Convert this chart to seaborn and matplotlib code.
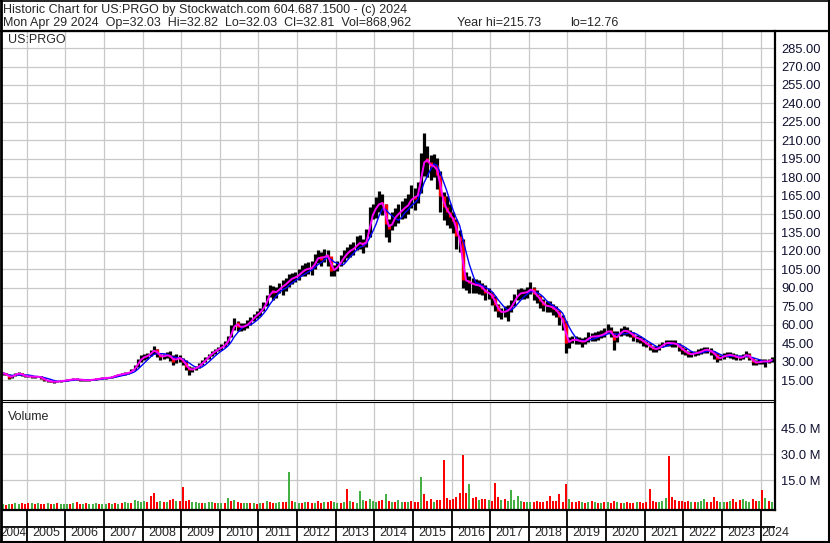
import numpy as np
import pandas as pd
import seaborn as sns
import matplotlib.pyplot as plt
from matplotlib.lines import Line2D
from matplotlib.ticker import FuncFormatter

W, H = 830, 543

# monthly bars, May 2004 -> Apr 2024
close = [
    20.5, 19.5, 17.0, 18.5, 20.0, 20.5, 19.0, 18.0,                                   # 2004 (May-Dec)
    18.0, 17.8, 17.5, 18.0, 16.5, 15.0, 14.2, 13.8, 13.5, 13.8, 14.2, 14.6,           # 2005
    15.0, 15.4, 15.8, 15.6, 15.2, 15.0, 14.8, 15.0, 15.5, 15.8, 16.2, 16.6,           # 2006
    16.8, 16.9, 17.6, 18.8, 19.4, 19.8, 20.3, 21.0, 22.5, 25.0, 30.0, 33.0,           # 2007
    34.0, 35.0, 37.5, 40.0, 36.0, 34.0, 34.5, 35.5, 34.0, 30.0, 33.5, 32.5,           # 2008
    30.0, 25.5, 23.0, 24.0, 25.0, 27.0, 29.5, 32.0, 35.0, 37.0, 39.0, 40.5,           # 2009
    42.0, 44.0, 48.0, 55.0, 62.0, 58.5, 58.0, 59.0, 60.5, 63.5, 66.5, 68.5,           # 2010
    71.0, 75.0, 80.0, 88.0, 86.0, 87.0, 90.0, 92.0, 93.5, 97.0, 98.0, 99.0,           # 2011
    101.0, 104.0, 105.0, 106.0, 106.0, 112.0, 116.0, 113.0, 117.0, 116.0, 104.0, 105.0,  # 2012
    108.0, 112.0, 116.0, 119.0, 121.0, 122.0, 126.0, 127.0, 124.0, 130.0, 145.0, 153.0,  # 2013
    156.0, 160.0, 158.0, 142.0, 138.0, 145.0, 149.0, 151.0, 154.0, 156.0, 158.0, 165.0,  # 2014
    162.0, 168.0, 188.0, 196.0, 192.0, 188.0, 190.0, 182.0, 165.0, 156.0, 152.0, 148.0,  # 2015
    144.0, 132.0, 128.0, 96.0, 96.0, 94.0, 93.0, 92.0, 92.0, 89.0, 86.0, 86.0,       # 2016
    82.0, 76.0, 71.0, 70.0, 71.0, 72.0, 76.0, 81.0, 85.0, 86.0, 86.0, 87.0,           # 2017
    90.0, 85.0, 83.0, 79.0, 76.0, 75.0, 75.0, 73.0, 71.0, 66.0, 62.0, 45.0,           # 2018
    47.0, 48.0, 47.5, 47.0, 46.0, 47.0, 50.0, 50.5, 50.5, 51.0, 52.0, 53.0,           # 2019
    56.0, 53.0, 48.0, 52.0, 54.0, 56.0, 54.0, 53.0, 50.0, 49.0, 48.0, 46.0,           # 2020
    44.0, 42.0, 40.5, 40.0, 42.0, 44.0, 45.5, 45.0, 45.0, 44.5, 42.0, 39.5,           # 2021
    38.0, 36.0, 36.0, 37.0, 37.5, 38.5, 40.0, 39.5, 38.0, 36.0, 32.0, 33.5,           # 2022
    34.5, 35.5, 35.5, 34.5, 33.5, 33.0, 34.0, 36.5, 33.0, 30.0, 29.0, 30.0,           # 2023
    30.0, 30.5, 30.0, 32.81,                                                          # 2024 (Jan-Apr)
]
high = [
    21.5, 20.8, 19.8, 19.0, 20.8, 21.3, 21.0, 19.5,
    18.9, 18.5, 18.4, 18.6, 18.2, 16.8, 15.3, 14.6, 14.2, 14.4, 14.9, 15.3,
    15.6, 16.0, 16.4, 16.5, 16.0, 15.6, 15.4, 15.7, 16.1, 16.4, 16.8, 17.3,
    17.4, 17.5, 18.3, 19.5, 20.2, 20.6, 21.2, 21.9, 23.8, 27.5, 32.5, 35.5,
    36.5, 37.0, 39.5, 42.5, 40.5, 36.5, 36.5, 38.0, 38.5, 35.5, 36.0, 35.5,
    33.0, 31.0, 26.5, 25.5, 26.5, 28.5, 31.0, 34.0, 36.5, 38.5, 40.5, 42.0,
    44.0, 46.5, 51.0, 60.0, 65.5, 63.0, 61.5, 61.5, 63.5, 66.5, 69.0, 71.0,
    74.0, 78.5, 84.0, 92.0, 91.5, 90.5, 94.0, 96.5, 98.0, 101.5, 102.0, 103.0,
    105.0, 108.5, 110.0, 111.0, 111.5, 117.5, 121.0, 119.0, 122.0, 121.0, 114.0, 108.5,
    112.0, 116.5, 120.5, 123.0, 126.0, 127.0, 132.5, 133.0, 130.0, 138.0, 156.0, 158.0,
    164.0, 169.0, 166.0, 158.0, 146.0, 152.0, 155.0, 158.0, 161.0, 163.0, 166.0, 174.0,
    171.0, 176.0, 200.0, 215.73, 205.0, 198.0, 199.0, 196.0, 185.0, 168.0, 165.0, 158.0,
    152.0, 146.0, 137.0, 130.0, 103.0, 100.0, 98.0, 97.0, 96.0, 94.0, 92.0, 90.0,
    87.0, 83.0, 77.0, 74.0, 75.0, 76.0, 80.0, 85.0, 89.0, 90.0, 89.0, 91.0,
    95.0, 91.0, 88.0, 84.0, 81.0, 79.0, 79.0, 77.0, 75.0, 72.0, 68.0, 63.0,
    50.0, 51.0, 51.0, 50.0, 49.0, 50.0, 54.0, 53.5, 54.0, 55.0, 56.0, 57.0,
    61.0, 58.0, 55.0, 55.0, 57.0, 59.0, 58.0, 56.0, 54.0, 52.0, 51.0, 49.0,
    47.0, 45.0, 43.0, 43.0, 44.5, 46.0, 48.0, 47.5, 48.0, 47.5, 45.5, 43.0,
    41.0, 39.0, 38.5, 39.0, 40.0, 41.0, 42.0, 42.0, 41.0, 39.0, 37.0, 35.5,
    37.0, 38.0, 37.5, 37.0, 36.0, 35.5, 36.5, 39.0, 37.0, 33.0, 31.5, 32.0,
    32.0, 32.5, 32.0, 33.5,
]
low = [
    19.5, 18.8, 16.2, 16.5, 18.2, 19.4, 18.5, 17.3,
    17.3, 17.0, 16.9, 17.1, 16.1, 14.6, 13.6, 13.2, 12.76, 13.1, 13.7, 14.0,
    14.4, 14.8, 15.1, 15.0, 14.6, 14.3, 14.1, 14.4, 14.9, 15.2, 15.6, 16.0,
    16.2, 16.3, 16.9, 17.9, 18.7, 19.0, 19.5, 19.9, 21.4, 22.8, 25.5, 29.5,
    31.0, 32.5, 34.5, 36.5, 33.5, 31.5, 32.0, 33.0, 30.5, 27.5, 28.5, 29.5,
    27.0, 23.5, 19.0, 21.5, 23.0, 25.0, 27.0, 29.5, 32.5, 34.5, 36.5, 38.5,
    39.5, 41.5, 44.5, 50.0, 56.0, 55.0, 55.0, 56.0, 57.5, 60.0, 63.0, 65.5,
    67.5, 71.5, 75.5, 82.5, 80.0, 82.0, 85.5, 84.0, 87.5, 91.0, 93.0, 94.5,
    96.5, 99.5, 100.0, 101.0, 100.5, 105.0, 110.5, 108.0, 111.0, 108.0, 99.5, 99.5,
    103.5, 107.5, 111.0, 114.5, 115.5, 117.0, 120.5, 121.5, 118.0, 123.0, 131.0, 146.0,
    147.0, 152.0, 149.0, 131.0, 127.0, 137.0, 140.0, 143.0, 146.0, 147.0, 150.0, 155.0,
    153.0, 159.0, 167.0, 181.0, 180.0, 178.0, 180.0, 170.0, 152.0, 145.0, 141.0, 139.0,
    135.0, 122.0, 119.0, 90.0, 88.0, 86.0, 86.0, 86.0, 85.0, 84.0, 80.0, 81.0,
    76.0, 71.0, 66.0, 65.0, 66.0, 63.0, 70.0, 75.0, 80.0, 81.0, 81.0, 82.0,
    85.0, 80.0, 78.0, 74.0, 71.0, 70.0, 70.0, 68.0, 66.0, 60.0, 56.0, 37.0,
    41.0, 45.0, 44.5, 44.0, 42.0, 44.0, 46.0, 46.5, 47.0, 48.0, 49.0, 50.0,
    53.0, 50.0, 39.5, 46.0, 51.0, 52.0, 51.0, 50.0, 47.0, 46.0, 45.0, 43.0,
    41.5, 39.5, 38.0, 37.5, 39.5, 41.5, 43.0, 42.5, 42.0, 42.0, 39.0, 36.5,
    35.5, 33.5, 33.5, 34.5, 35.0, 36.0, 37.0, 37.0, 35.5, 32.5, 29.5, 31.0,
    32.0, 33.5, 33.0, 32.0, 31.5, 31.0, 32.0, 34.0, 31.0, 27.5, 27.0, 28.0,
    28.0, 25.5, 28.5, 29.5,
]
# volume, millions (biggest session of the month)
volume = [
    1.0, 0.8, 1.2, 1.4, 1.5, 1.2, 1.6, 1.3,
    1.5, 2.0, 1.2, 1.8, 1.4, 1.0, 1.6, 1.4, 1.2, 1.5, 1.0, 1.3,
    1.4, 1.1, 1.6, 2.1, 1.2, 1.0, 1.5, 1.3, 1.2, 1.6, 1.4, 1.1,
    1.2, 1.6, 1.1, 1.8, 1.4, 1.7, 2.4, 2.0, 1.6, 3.5, 2.8, 2.5,
    3.0, 2.6, 5.8, 7.3, 2.5, 3.0, 2.2, 2.4, 3.4, 4.0, 3.0, 2.8,
    11.0, 3.2, 3.5, 2.6, 2.2, 2.0, 1.8, 2.0, 2.2, 2.4, 1.8, 1.6,
    2.0, 1.8, 4.5, 3.0, 3.5, 2.5, 2.0, 1.6, 1.8, 2.0, 1.6, 1.4,
    1.8, 1.5, 3.0, 2.5, 2.0, 1.8, 2.2, 2.6, 2.4, 19.5, 3.0, 2.2,
    2.0, 1.6, 2.5, 2.2, 1.8, 1.5, 2.8, 2.0, 2.4, 2.6, 3.2, 2.2,
    2.0, 1.8, 2.4, 10.0, 3.0, 2.4, 2.0, 8.7, 3.5, 2.8, 4.2, 3.0,
    2.6, 3.0, 3.5, 7.0, 3.0, 2.5, 2.4, 3.5, 2.6, 2.2, 2.5, 2.8,
    2.5, 2.2, 16.8, 7.0, 3.0, 4.0, 2.6, 3.5, 3.4, 27.0, 4.5, 3.5,
    4.0, 5.5, 7.5, 29.6, 7.3, 12.8, 4.5, 5.0, 3.5, 4.0, 4.2, 3.5,
    3.0, 13.3, 5.0, 3.5, 4.0, 3.0, 9.3, 3.5, 5.8, 3.0, 2.5, 2.6,
    2.4, 2.2, 3.0, 2.6, 2.4, 3.0, 5.8, 2.8, 3.0, 7.0, 2.5, 12.8,
    4.0, 2.5, 2.2, 2.8, 2.4, 2.0, 2.5, 3.0, 2.2, 1.8, 2.0, 2.4,
    2.2, 2.0, 3.0, 2.5, 2.0, 1.8, 2.2, 2.0, 1.8, 2.4, 2.2, 2.0,
    2.5, 10.0, 3.2, 2.5, 2.6, 3.0, 4.5, 29.0, 5.0, 3.5, 2.8, 3.0,
    2.6, 2.8, 2.4, 2.5, 2.2, 3.0, 4.0, 2.5, 2.4, 5.4, 3.0, 2.5,
    2.5, 2.2, 2.8, 4.0, 2.6, 3.5, 3.8, 2.8, 2.5, 4.2, 3.0, 2.8,
    9.3, 4.5, 3.0, 2.6,
]
# colour of the volume bar, g = up, r = down
vol_side = (
    "grgrggrr"
    "rgrgrrgrgrgg"
    "grgrrgrgggrg"
    "grgrgrggrggg"
    "grrrrgrgrrgr"
    "rrrgggrgggrg"
    "grgrgrrggrgr"
    "grgrrggrrgrg"
    "grgrrgrrgrrg"
    "grgrgrgggrgg"
    "grrgrgrggrgr"
    "rrgrrrgrrrrr"
    "rrrrrgrrgrrg"
    "rrrgrgggggrg"
    "grrrrrrrrrrr"
    "grrrgrgrgrgr"
    "grrgrgrrrgrr"
    "rrrrgggrrrrr"
    "rrgrgggrrrrg"
    "grgrrrgggrrg"
    "rgrg"
)

years = list(range(2005, 2025))
ma_short = 2
ma_long = 5

months = pd.period_range("2004-05", periods=len(close), freq="M")
df = pd.DataFrame({
    "t": months.year + (months.month - 1) / 12 + 1 / 24,
    "close": close,
    "high": high,
    "low": low,
    "vol": volume,
    "side": list(vol_side),
})
df["open"] = df["close"].shift(1).fillna(df["close"])
df["ma1"] = df["close"].rolling(ma_short, min_periods=1).mean()
df["ma2"] = df["close"].rolling(ma_long, min_periods=1).mean()

sns.set_style("white")
plt.rcParams["font.family"] = ["Liberation Sans", "DejaVu Sans"]

fig = plt.figure(figsize=(W / 100, H / 100), dpi=100)


def box(x0, y0, x1, y1):
    """axes placed in pixel coordinates (y measured from the top)"""
    return fig.add_axes([x0 / W, 1 - y1 / H, (x1 - x0) / W, (y1 - y0) / H])


def line(xs, ys, lw=1.5):
    fig.add_artist(Line2D([x / W for x in xs], [1 - y / H for y in ys], color="black", lw=lw))


ax_p = box(2, 31, 774.5, 400)
ax_v = box(2, 402, 774.5, 510)
ax_t = box(2, 510, 774.5, 541)

xlim = (2004.36, 2024.36)
grid_kw = dict(color="#c8c8c8", lw=0.9)

# ---- price panel
ax_p.vlines(df["t"], df["low"], df["high"], color="black", lw=2.3)
down = df[df["close"] < df["open"]]
ax_p.vlines(down["t"], down["close"], down["open"], color="red", lw=2.3)
sns.lineplot(data=df, x="t", y="ma2", ax=ax_p, color="#0000ff", lw=1.0)
sns.lineplot(data=df, x="t", y="ma1", ax=ax_p, color="#ff00ff", lw=1.4)
ax_p.set_xlim(*xlim)
ax_p.set_ylim(-1.2, 298.9)
ax_p.set_yticks(range(15, 286, 15))
ax_p.yaxis.set_major_formatter(FuncFormatter(lambda v, p: f"{v:.2f}"))
ax_p.text(0.008, 0.968, "US:PRGO", transform=ax_p.transAxes, fontsize=9, va="baseline")

# ---- volume panel
vbot = -2.3
colors = [{"g": "#44b044", "r": "#ff0000"}[s] for s in df["side"]]
ax_v.bar(df["t"], df["vol"] - vbot, bottom=vbot, width=0.62 / 12, color=colors,
         linewidth=0, antialiased=False)
ax_v.set_xlim(*xlim)
ax_v.set_ylim(vbot, 60.4)
ax_v.set_yticks([15, 30, 45])
ax_v.yaxis.set_major_formatter(FuncFormatter(lambda v, p: f"{v:.1f} M"))
ax_v.text(0.008, 0.83, "Volume", transform=ax_v.transAxes, fontsize=9, va="baseline")

for ax in (ax_p, ax_v):
    ax.set_xticks(years)
    ax.grid(True, **grid_kw)
    ax.set_axisbelow(True)
    ax.yaxis.tick_right()
    ax.tick_params(axis="y", length=0, pad=5, labelsize=9.3, labelcolor="#101030")
    ax.tick_params(axis="x", length=0, labelbottom=False)
    ax.set_xlabel("")
    ax.set_ylabel("")
    for s in ax.spines.values():
        s.set_color("black")
    ax.spines["left"].set_visible(False)
    ax.spines["top"].set_linewidth(0.8)
    ax.spines["bottom"].set_linewidth(0.8)
    ax.spines["right"].set_linewidth(1.6)
ax_v.spines["bottom"].set_linewidth(1.6)

# ---- year strip
ax_t.set_xlim(*xlim)
ax_t.set_ylim(0, 31)
ax_t.axis("off")
ax_t.vlines(years, 0, 31, color="black", lw=1.3)
ax_t.axhline(14.5, color="black", lw=1.3)
for yr in range(2005, 2024):
    ax_t.text(yr + 0.5, 7.5, str(yr), ha="center", va="center", fontsize=9)
# first and last year are partial cells
ax_t.text(2005 - 0.01, 7.5, "2004", ha="right", va="center", fontsize=8.4)
ax_t.text(2024 + 0.02, 7.5, "2024", ha="left", va="center", fontsize=9, clip_on=False)

# ---- frame + header
line([1, 1], [0, 543], lw=2)
line([0, 829], [0.5, 0.5], lw=1.2)
line([828.5, 828.5], [0, 543], lw=1.5)
line([0, 830], [541.5, 541.5], lw=1.5)
line([0, 830], [30.5, 30.5], lw=1.6)
fig.text(3 / W, 1 - 13 / H, "Historic Chart for US:PRGO by Stockwatch.com 604.687.1500 - (c) 2024",
         fontsize=9, va="baseline")
fig.text(3 / W, 1 - 26 / H, "Mon Apr 29 2024  Op=32.03  Hi=32.82  Lo=32.03  Cl=32.81  Vol=868,962",
         fontsize=9, va="baseline")
fig.text(457 / W, 1 - 26 / H, "Year hi=215.73", fontsize=9, va="baseline")
fig.text(570 / W, 1 - 26 / H, "lo=12.76", fontsize=9, va="baseline")

fig.savefig("out.png", dpi=100)
